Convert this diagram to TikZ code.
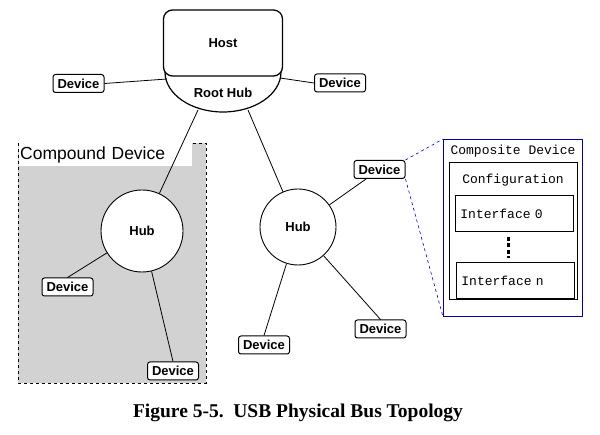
\documentclass[tikz,border=0pt]{standalone}
\usepackage{fontspec}
\setmainfont{Liberation Serif}
\setsansfont{Liberation Sans}
\setmonofont{Liberation Mono}
\begin{document}
\begin{tikzpicture}[x=1pt,y=-1pt,
  dev/.style={draw,line width=1pt,rounded corners=2.5pt,minimum width=51pt,minimum height=18pt,inner sep=0pt,font=\sffamily\bfseries\fontsize{13}{14}\selectfont,fill=white},
  hub/.style={draw,line width=0.9pt,circle,fill=white,font=\sffamily\bfseries\fontsize{13}{14}\selectfont,inner sep=0pt},
  ibox/.style={draw,line width=0.8pt,minimum width=118pt,minimum height=36pt,font=\ttfamily\fontsize{13}{15}\selectfont,align=left,text width=108pt},
  conn/.style={line width=0.8pt}]
\useasboundingbox (0,0) rectangle (600,435);
% compound device
\fill[gray!35] (18,143) rectangle (206,383);
\draw[dashed,line width=0.6pt] (18,143) rectangle (206,383);
\node[fill=white,anchor=north west,minimum height=23pt,text width=171pt,inner sep=1pt,align=left,font=\sffamily\fontsize{17.5}{19}\selectfont] (cdl) at (19,143) {Compound Device};
% root hub
\draw[line width=1.2pt,fill=white] (165,72) arc[start angle=180,end angle=0,x radius=58,y radius=40];
\node[font=\sffamily\bfseries\fontsize{13}{14}\selectfont] (rh) at (223,93) {Root Hub};
\node[draw,line width=1.3pt,rounded corners=9pt,fill=white,minimum width=119pt,minimum height=66pt,font=\sffamily\bfseries\fontsize{13}{14}\selectfont] (host) at (223,43) {Host};
\coordinate (rhl) at (167,79);
\coordinate (rhr) at (280,78);
\coordinate (rhbl) at (198,110);
\coordinate (rhbr) at (248,110);
% hubs
\node[hub,minimum size=82pt] (hubL) at (142,231) {Hub};
\node[hub,minimum size=76pt] (hubM) at (298,227) {Hub};
% devices
\node[dev] (d1) at (78.5,83.5) {Device};
\node[dev] (d2) at (340,83) {Device};
\node[dev] (d3) at (67.5,287) {Device};
\node[dev] (d4) at (173,371) {Device};
\node[dev] (d5) at (379.5,169.5) {Device};
\node[dev] (d6) at (264,345) {Device};
\node[dev] (d7) at (380.5,329) {Device};
% connectors
\draw[conn] (d1.east) -- (rhl);
\draw[conn] (rhr) -- (d2.west);
\draw[conn] (rhbl) -- (hubL);
\draw[conn] (rhbr) -- (hubM);
\draw[conn] (hubL) -- (d3.north);
\draw[conn] (hubL) -- (d4.north);
\draw[conn] (hubM) -- (d5);
\draw[conn] (hubM) -- (d6.north);
\draw[conn] (hubM) -- (d7.north);
% composite device
\node[draw=blue!70!black,line width=0.8pt,minimum width=139pt,minimum height=177pt,anchor=north west,inner sep=0pt] (comp) at (443,139) {};
\node[font=\ttfamily\fontsize{13}{15}\selectfont] (compt) at (513,151) {Composite Device};
\node[draw,line width=0.8pt,minimum width=128pt,minimum height=137pt,anchor=north west,inner sep=0pt] (cfg) at (449,162) {};
\node[font=\ttfamily\fontsize{13}{15}\selectfont] (cfgt) at (513,180) {Configuration};
\node[ibox,anchor=north west] (if0) at (455,195) {Interface 0};
\node[ibox,anchor=north west] (ifn) at (456,262) {Interface n};
\coordinate (da) at (508,237);
\coordinate (db) at (508,258);
\draw[line width=3pt,dash pattern=on 4pt off 2.5pt] (da) -- (db);
\draw[blue!70!black,dashed,line width=0.6pt] (d5.north east) -- (comp.north west);
\draw[blue!70!black,dashed,line width=0.6pt] (d5.south east) -- (comp.south west);
% caption
\node[font=\rmfamily\bfseries\fontsize{19.5}{21}\selectfont] (cap) at (298,413) {Figure 5-5.\ \ USB Physical Bus Topology};
\end{tikzpicture}
\end{document}
